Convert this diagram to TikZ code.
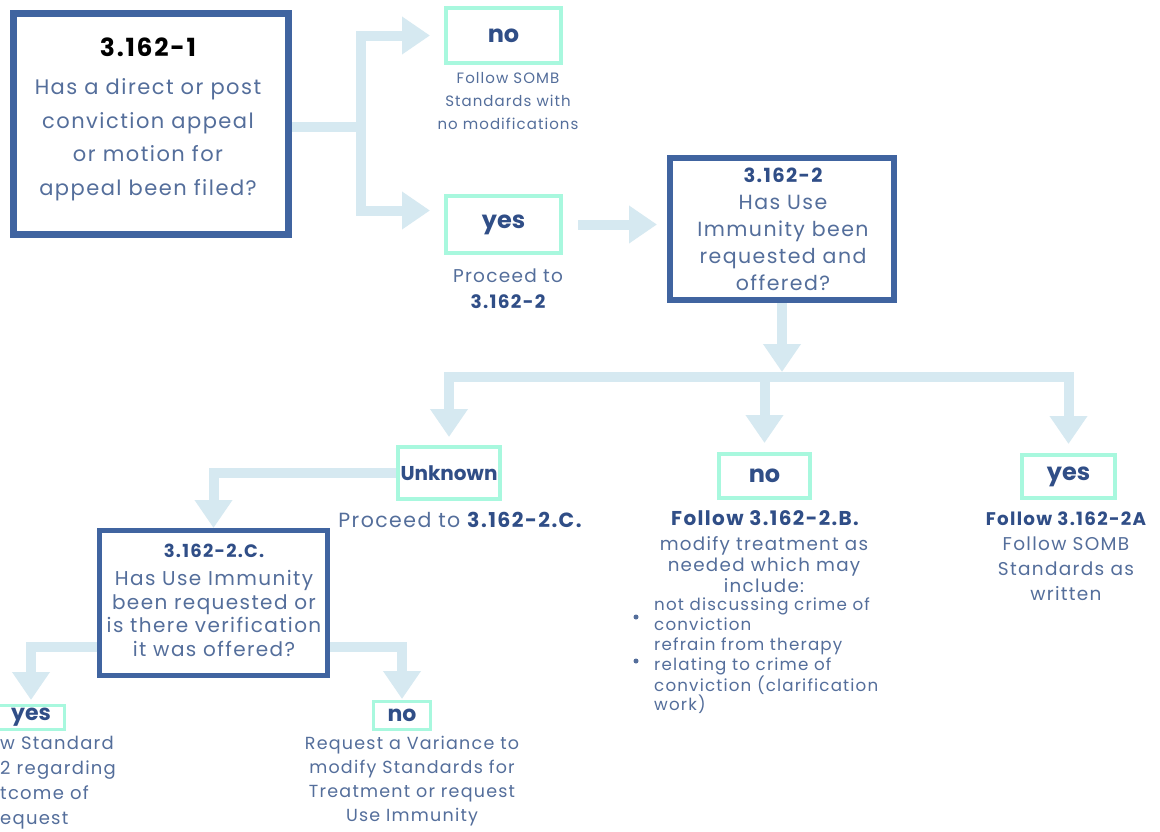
\documentclass[tikz,border=0pt]{standalone}
\usepackage{fontspec}
\setmainfont{Poppins}[LetterSpace=7]
\newfontfamily\tightfont{Poppins}
\usetikzlibrary{arrows.meta,calc}
\definecolor{boxblue}{RGB}{64,100,160}
\definecolor{txt}{RGB}{84,110,155}
\definecolor{hd}{RGB}{48,78,135}
\definecolor{mint}{RGB}{168,248,222}
\definecolor{arr}{RGB}{214,233,241}
\newcommand{\fs}[2]{\fontsize{#1}{#2}\selectfont}
\begin{document}
\begin{tikzpicture}[x=1pt,y=-1pt,
  qbox/.style={draw=boxblue,inner sep=0pt},
  ans/.style={draw=mint,line width=4pt,inner sep=0pt,text=hd,font=\tightfont\bfseries\fs{24}{28}},
  note/.style={text=txt,align=center,inner sep=0pt},
  flow/.style={draw=arr,line width=10pt,-{Triangle[length=28pt,width=36pt]}}]
\useasboundingbox (0,0) rectangle (1160,831);
\clip (0,0) rectangle (1160,831);
\fill[white] (0,0) rectangle (1160,831);

% decision boxes
\node[qbox,line width=7pt,minimum width=275pt,minimum height=221pt] (b1) at (151,124) {};
\node[note,font=\fs{21}{33.5}] (b1t) at (148,119) {{\color{black}\bfseries\fs{25}{30}3.162-1}\\[5pt]Has a direct or post\\conviction appeal\\or motion for\\appeal been filed?};

\node[qbox,line width=6pt,minimum width=224pt,minimum height=142pt] (b2) at (782,229) {};
\node[note,font=\fs{20.5}{27}] (b2t) at (783,229) {{\color{hd}\bfseries\fs{19.5}{27}3.162-2}\\Has Use\\Immunity been\\requested and\\offered?};

\node[qbox,line width=5pt,minimum width=228pt,minimum height=145pt] (bC) at (213.5,603) {};
\node[note,font=\fs{20}{23.5}] (bCt) at (214,600) {{\color{hd}\bfseries\fs{18}{23.5}3.162-2.C.}\\[5pt]Has Use Immunity\\been requested or\\is there verification\\it was offered?};

% answers top
\node[ans,minimum width=115pt,minimum height=55pt] (no1) at (503.5,35.5) {no};
\node[note,font=\fs{15}{23}] (no1n) at (508,101) {Follow SOMB\\Standards with\\no modifications};
\node[ans,minimum width=115pt,minimum height=57pt] (yes1) at (503.5,224.5) {yes};
\node[note,font=\fs{18.5}{26}] (yes1n) at (508,289) {Proceed to\\{\color{hd}\bfseries 3.162-2}};

% answers middle
\coordinate (split) at (782,377);
\node[ans,minimum width=102pt,minimum height=52pt,font=\tightfont\bfseries\fs{20}{24}] (unk) at (449,473) {Unknown};
\node[note,font=\fs{20.5}{24}] (unkn) at (460,520) {Proceed to {\color{hd}\bfseries 3.162-2.C.}};

\node[ans,minimum width=91pt,minimum height=44pt] (no3) at (764.5,476) {no};
\node[note,font=\bfseries\fs{20}{24},text=hd] (no3h) at (765,518) {Follow 3.162-2.B.};
\node[note,font=\fs{18.3}{21}] (no3d) at (764,565) {modify treatment as\\needed which may\\include:};
\node[note,align=left,anchor=west,font=\fs{16.7}{19.8}] (no3l) at (654,656) {not discussing crime of\\conviction\\refrain from therapy\\relating to crime of\\conviction (clarification\\work)};
\fill[txt] (636,617) circle (2.5pt);
\fill[txt] (636,661) circle (2.5pt);

\node[ans,minimum width=93pt,minimum height=43pt] (yes3) at (1068.5,476.5) {yes};
\node[note,font=\bfseries\fs{18.3}{24},text=hd] (yes3h) at (1066,519) {Follow 3.162-2A};
\node[note,font=\fs{18.5}{25}] (yes3d) at (1066,568.5) {Follow SOMB\\Standards as\\written};

% answers bottom
\node[ans,line width=3pt,minimum width=67pt,minimum height=24pt,font=\tightfont\bfseries\fs{22}{26}] (yes2) at (31,717.5) {yes};
\node[note,align=left,anchor=west,font=\fs{18}{25}] (yes2n) at (0,782.5) {w Standard\\2 regarding\\tcome of\\equest};
\node[ans,line width=3pt,minimum width=57pt,minimum height=28pt,font=\tightfont\bfseries\fs{22}{26}] (no2) at (402,715.5) {no};
\node[note,font=\fs{17.5}{24}] (no2n) at (412,781) {Request a Variance to\\modify Standards for\\Treatment or request\\Use Immunity};

% connectors
\coordinate (j1) at (361,127);
\draw[flow,shorten >=14pt] (b1.east |- j1) -| (j1 |- no1.west) -- (no1.west);
\draw[flow,shorten >=14pt] (b1.east |- j1) -| ($(j1 |- yes1.west)+(0,-14)$) -- ($(yes1.west)+(0,-14)$);
\draw[flow,shorten <=15pt,shorten >=10pt] (yes1.east) -- (yes1.east -| b2.west);
\draw[flow,shorten >=5pt] (b2.south) -- (split);
\draw[flow,shorten >=8pt] (split) -| (unk.north);
\draw[flow,shorten >=9pt] (split) -| (no3.north);
\draw[flow,shorten >=9pt] (split) -| (yes3.north);
\draw[flow] (unk.west) -| (bC.north);
\draw[flow,shorten >=4pt] ($(bC.west)+(0,44)$) -| (yes2.north);
\draw[flow,shorten >=1pt] ($(bC.east)+(0,44)$) -| (no2.north);
\end{tikzpicture}
\end{document}
